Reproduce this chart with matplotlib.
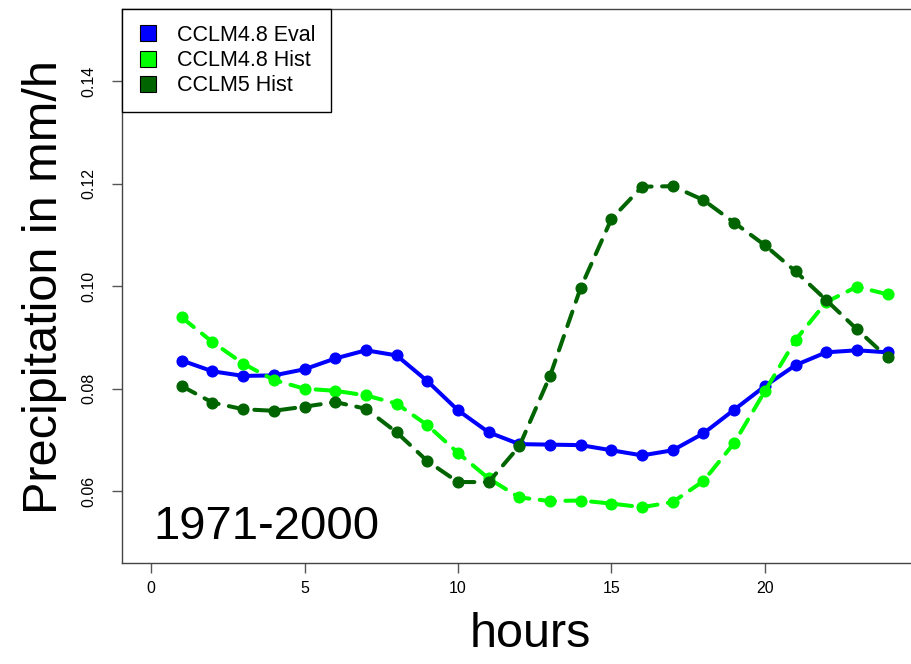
import numpy as np
import matplotlib
matplotlib.use('agg')
from matplotlib import pyplot as plt
from matplotlib.lines import Line2D

plt.rcParams['font.family'] = ['Liberation Sans', 'DejaVu Sans']

hours = np.arange(1, 25)

# mean diurnal cycle, mm/h
eval48 = [0.0855, 0.0834, 0.0825, 0.0826, 0.0838, 0.0859, 0.0875, 0.0865,
          0.0815, 0.0758, 0.0715, 0.0692, 0.0691, 0.0690, 0.0680, 0.0670,
          0.0680, 0.0713, 0.0759, 0.0805, 0.0846, 0.0871, 0.0875, 0.0871]
hist48 = [0.0939, 0.0891, 0.0849, 0.0817, 0.0800, 0.0796, 0.0787, 0.0771,
          0.0729, 0.0675, 0.0625, 0.0588, 0.0581, 0.0582, 0.0576, 0.0569,
          0.0579, 0.0620, 0.0694, 0.0795, 0.0895, 0.0969, 0.0999, 0.0984]
hist5 = [0.0805, 0.0773, 0.0760, 0.0757, 0.0765, 0.0774, 0.0761, 0.0715,
         0.0659, 0.0618, 0.0618, 0.0688, 0.0825, 0.0997, 0.1131, 0.1194,
         0.1195, 0.1168, 0.1124, 0.1080, 0.1029, 0.0973, 0.0916, 0.0861]

names = ['CCLM4.8 Eval', 'CCLM4.8 Hist', 'CCLM5 Hist']
colors = ['#0000ff', '#00ff00', '#006400']
period = '1971-2000'

fig = plt.figure(figsize=(9.12, 6.64), dpi=100)
ax = fig.add_axes([0.1334, 0.152, 0.8721, 0.834])

series = [eval48, hist48, hist5]
styles = ['solid', 'dashed', 'dashed']
for vals, col, ls in zip(series, colors, styles):
	line, = ax.plot(hours, vals, color=col, lw=2.9, marker='o', ms=7.7,
	                solid_capstyle='round', dash_capstyle='round', zorder=3)
	if ls == 'dashed':
		line.set_dashes((3.8, 2.6))

ax.set_xlim(-0.96, 24.96)
ax.set_ylim(0.046, 0.154)
ax.set_xticks([0, 5, 10, 15, 20])
ax.set_yticks([0.06, 0.08, 0.10, 0.12, 0.14])
ax.set_yticklabels(['0.06', '0.08', '0.10', '0.12', '0.14'])

for s in ax.spines.values():
	s.set_color('#444444')
	s.set_linewidth(1.0)
ax.tick_params(axis='both', colors='#555555', labelcolor='black', length=7,
               width=1.0, labelsize=11.5)
ax.tick_params(axis='x', pad=6)
ax.tick_params(axis='y', pad=11)
for lab in ax.get_yticklabels():
	lab.set_rotation(90)
	lab.set_va('center')

fig.text(0.049, 0.568, 'Precipitation in mm/h', rotation=90, fontsize=35,
         ha='center', va='center')
fig.text(0.582, 0.026, 'hours', fontsize=35, ha='center', va='baseline')
ax.text(0.04, 0.043, period, transform=ax.transAxes, fontsize=34,
        ha='left', va='baseline')

handles = [Line2D([], [], ls='none', marker='s', ms=11, mfc=c, mec='black',
                  mew=0.8) for c in colors]
leg = ax.legend(handles, names, loc='upper left', bbox_to_anchor=(0, 1),
                borderaxespad=0, fontsize=15.5, frameon=True, fancybox=False,
                edgecolor='black', framealpha=1, handlelength=1.0,
                handletextpad=0.85, labelspacing=0.2, borderpad=0.72)
leg.get_frame().set_linewidth(1.0)

fig.savefig('out.png', dpi=100)
